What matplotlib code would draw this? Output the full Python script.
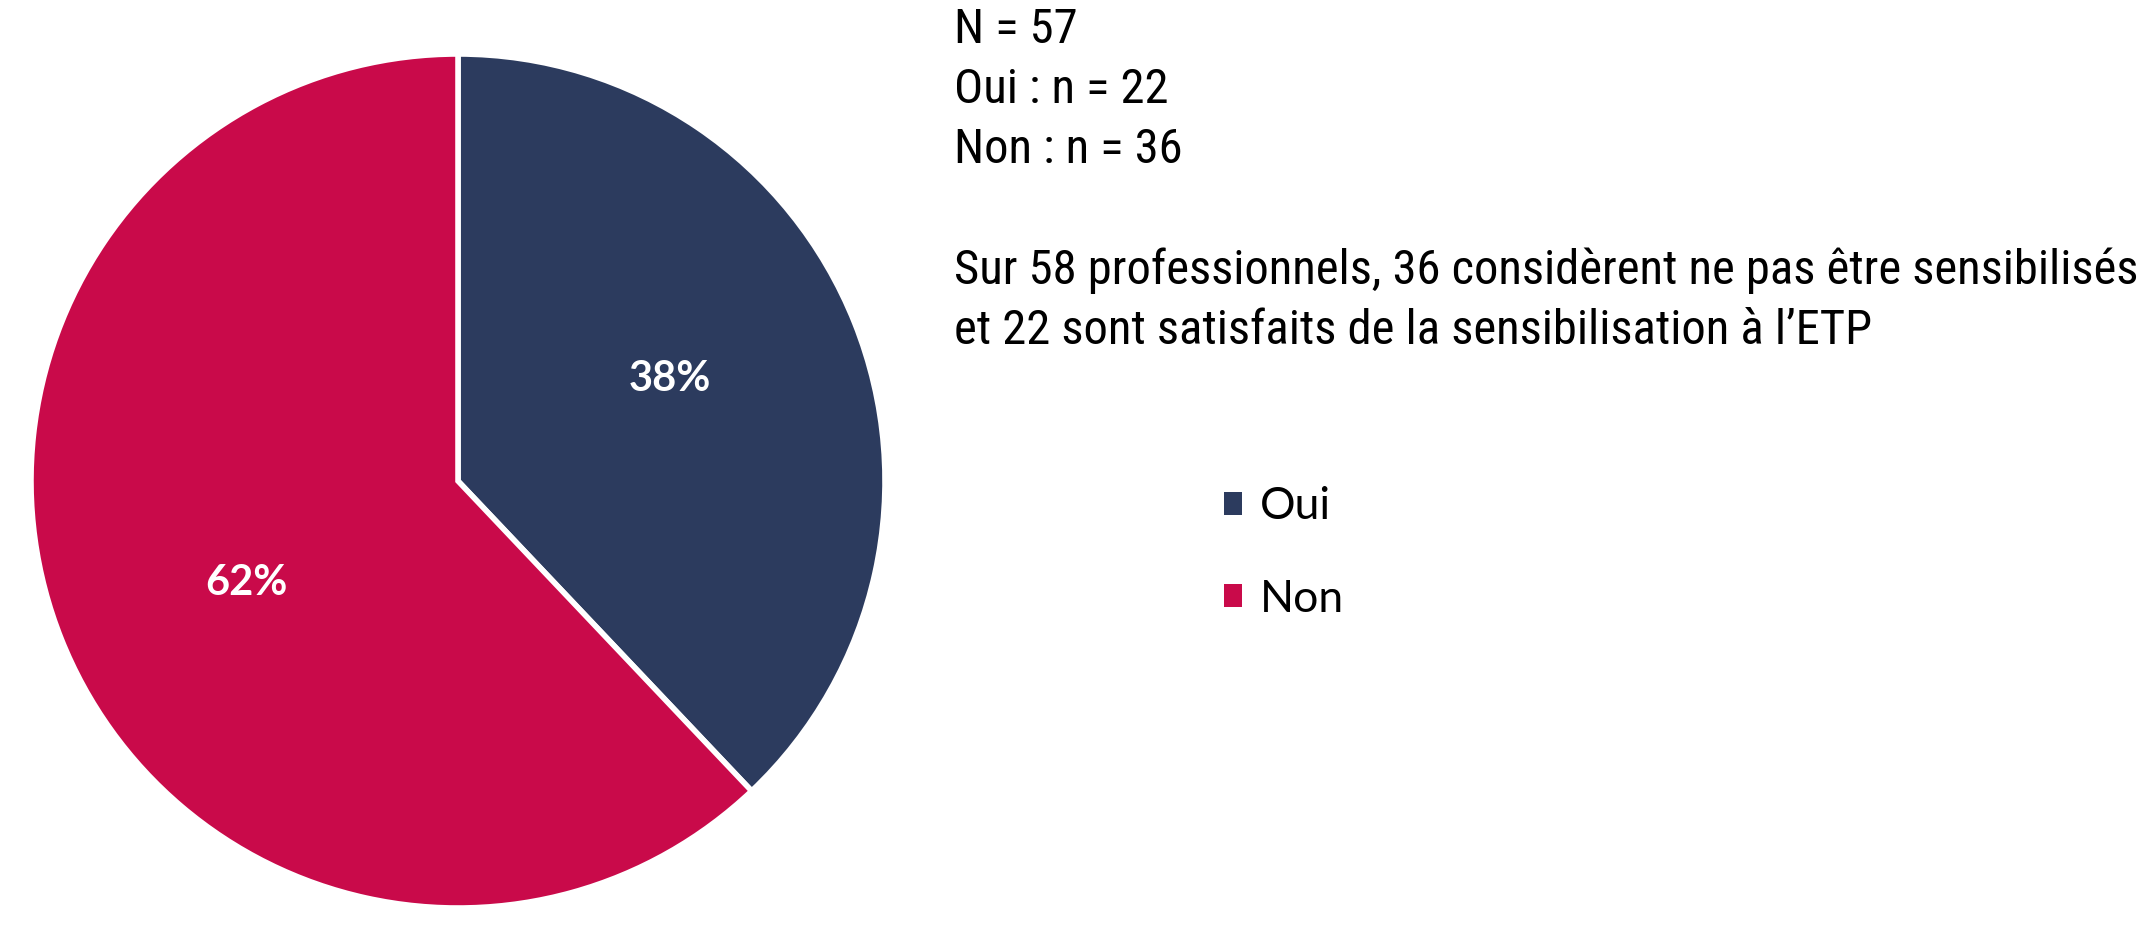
import matplotlib
matplotlib.use("Agg")
import matplotlib.pyplot as plt
from matplotlib.patches import Patch
import numpy as np

# data
labels = ["Oui", "Non"]
counts = [22, 36]
colors = ["#2C3B5E", "#C90A4A"]

info_lines = ["N = 57", "Oui : n = 22", "Non : n = 36"]
comment_lines = ["Sur 58 professionnels, 36 considèrent ne pas être sensibilisés",
                 "et 22 sont satisfaits de la sensibilisation à l\u2019ETP"]

W, H = 2146, 925
fig = plt.figure(figsize=(W / 100, H / 100), dpi=100)
fig.patch.set_facecolor("white")

# pie axes, square in pixels
cx, cy, r = 458, 481, 427
ax = fig.add_axes([(cx - r) / W, (H - cy - r) / H, 2 * r / W, 2 * r / H])
wedges, texts, autotexts = ax.pie(
    counts, colors=colors, startangle=90, counterclock=False,
    autopct="%.0f%%", pctdistance=0.55,
    wedgeprops=dict(edgecolor="white", linewidth=4),
    textprops=dict(color="white", fontsize=30, fontweight="bold", family="Lato"))
# labels sit a little further round than the wedge middle
for w, t in zip(wedges, autotexts):
    a = np.deg2rad((w.theta1 + w.theta2) / 2 + 4)
    t.set_position((0.55 * np.cos(a), 0.55 * np.sin(a)))
ax.set_xlim(-1, 1)
ax.set_ylim(-1, 1)
ax.axis("off")

# text block, narrow font if there is one
tx = 954 / W
fam = ["Roboto Condensed", "Liberation Sans Narrow", "Lato", "DejaVu Sans"]
objs = []
for i, line in enumerate(info_lines):
    objs.append(fig.text(tx, 1 - (30 + 60 * i) / H, line, va="center", ha="left",
                         fontsize=28, family=fam, color="black"))
for i, line in enumerate(comment_lines):
    objs.append(fig.text(tx, 1 - (271 + 60 * i) / H, line, va="center", ha="left",
                         fontsize=28, family=fam, color="black"))

# fit the long line to the width it has in the reference
rend = fig.canvas.get_renderer()
wpx = objs[3].get_window_extent(rend).width
size = 28 * 1185 / wpx
for t in objs:
    t.set_fontsize(size)

# legend
handles = [Patch(facecolor=c, edgecolor="none") for c in colors]
fig.legend(handles, labels, loc="center left", bbox_to_anchor=(1224 / W, 1 - 553 / H),
           frameon=False, prop=dict(family="Lato", size=32),
           handlelength=0.4, handleheight=0.4, handletextpad=0.4,
           labelspacing=1.15, borderpad=0, borderaxespad=0)

fig.savefig("out.png", dpi=100, facecolor="white")
